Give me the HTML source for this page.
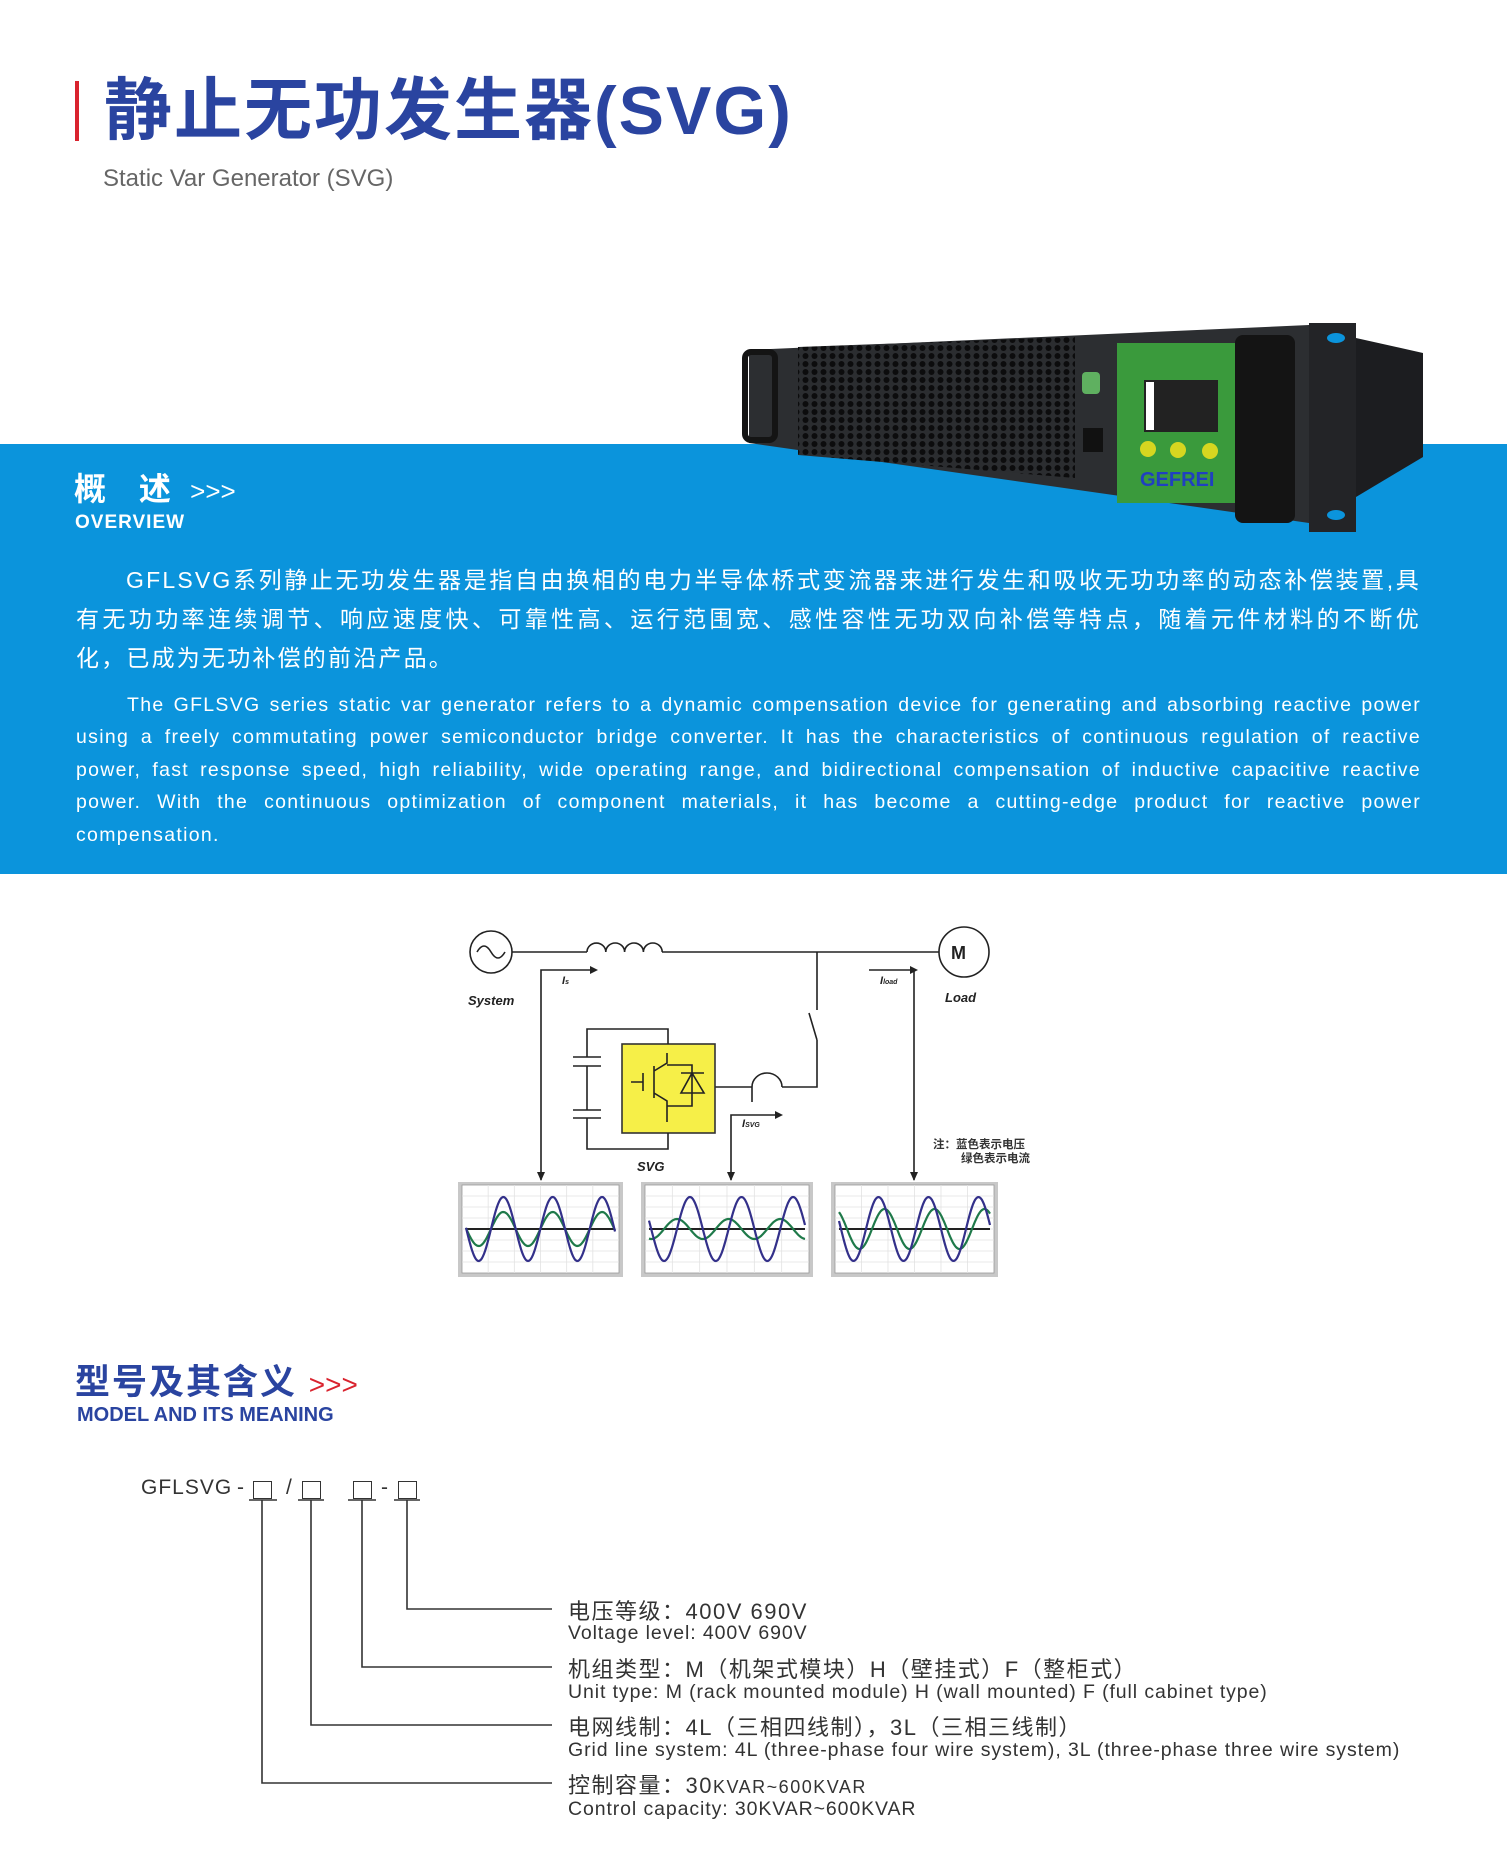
<!DOCTYPE html>
<html><head><meta charset="utf-8">
<style>
*{margin:0;padding:0;box-sizing:border-box}
body{width:1507px;height:1862px;position:relative;background:#fff;font-family:"Liberation Sans","Noto Sans CJK SC",sans-serif;overflow:hidden}
.a{position:absolute;white-space:nowrap}
#band{position:absolute;left:0;top:444px;width:1507px;height:430px;background:#0b94dc}
.cn{position:absolute;left:76px;width:1345px;color:#fff;font-size:23px;letter-spacing:2.2px;text-align:justify;text-align-last:justify;white-space:nowrap}
.en{position:absolute;left:76px;width:1345px;color:#fff;font-size:19.5px;letter-spacing:1.3px;text-align:justify;text-align-last:justify;white-space:nowrap}
.mc{position:absolute;left:568px;font-size:22px;color:#333;letter-spacing:1.5px}
.me{position:absolute;left:568px;font-size:19.5px;color:#333;letter-spacing:0.9px}
.bx{position:absolute;top:1481px;width:19px;height:18px;border:1.5px solid #333}
</style></head><body>
<div class="a" style="left:75px;top:81px;width:4px;height:60px;background:#d9232e"></div>
<div class="a" style="left:104px;top:66px;font-size:68px;font-weight:bold;color:#2a44a0;letter-spacing:2px;line-height:90px">静止无功发生器(SVG)</div>
<div class="a" style="left:103px;top:164px;font-size:24px;color:#666;line-height:30px">Static Var Generator (SVG)</div>

<div id="band"></div>

<svg class="a" style="left:0;top:0" width="1507" height="1862" viewBox="0 0 1507 1862">
<defs>
<pattern id="hex" width="9" height="8" patternUnits="userSpaceOnUse"><rect width="9" height="8" fill="#2b2d30"/><circle cx="4.5" cy="4" r="3" fill="#0c0c0d"/></pattern>
</defs>
<polygon points="1356,338 1423,353 1423,457 1356,497" fill="#1c1d20"/>
<polygon points="749,350 1309,325 1309,523 749,443" fill="#2c2e31"/>
<polygon points="798,347 1075,337 1075,478 798,455" fill="url(#hex)"/>
<rect x="745" y="352" width="30" height="88" rx="6" fill="none" stroke="#141414" stroke-width="6"/>
<rect x="1117" y="343" width="118" height="160" fill="#3a9a3c"/>
<rect x="1144" y="380" width="74" height="52" fill="#222"/>
<rect x="1146" y="382" width="8" height="48" fill="#fff"/>
<circle cx="1148" cy="449" r="8" fill="#d6d620"/><circle cx="1178" cy="450" r="8" fill="#d6d620"/><circle cx="1210" cy="451" r="8" fill="#d6d620"/>
<text x="1140" y="486" font-size="20" font-weight="bold" fill="#2040c0">GEFREI</text>
<rect x="1082" y="372" width="18" height="22" rx="4" fill="#5fb060"/>
<rect x="1083" y="428" width="20" height="24" fill="#111"/>
<rect x="1235" y="335" width="60" height="188" rx="8" fill="#141414"/>
<rect x="1309" y="323" width="47" height="209" fill="#232427"/>
<ellipse cx="1336" cy="338" rx="9" ry="5" fill="#0b94dc"/><ellipse cx="1336" cy="515" rx="9" ry="5" fill="#0b94dc"/>

<g fill="none" stroke="#222" stroke-width="1.6">
<circle cx="491" cy="952" r="21"/>
<path d="M477 952 q7 -12 14 0 t14 0"/>
<line x1="512" y1="952" x2="587" y2="952"/>
<path d="M587 952 a9.4 9 0 0 1 18.8 0 a9.4 9 0 0 1 18.8 0 a9.4 9 0 0 1 18.8 0 a9.4 9 0 0 1 18.8 0"/>
<line x1="662" y1="952" x2="939" y2="952"/>
<circle cx="964" cy="952" r="25"/>
<path d="M817 952 V1010 M809 1013 L817 1040 M817 1040 V1087 H782"/>
<path d="M715 1087 H752 M752 1102 V1087 A15 14 0 1 1 782 1087"/>
<rect x="622" y="1044" width="93" height="89" fill="#f6ef48" stroke="#333"/>
<path d="M668 1044 V1029 H587 V1057 M573 1057 H601 M573 1066 H601 M587 1066 V1110 M573 1110 H601 M573 1118 H601 M587 1118 V1149 H668 V1133"/>
<path d="M631 1082 H643 M643 1073 V1091 M654 1066 V1098 M654 1071 L667 1063 V1053 M654 1093 L667 1101 V1122 M667 1065 H692 V1106 H667 M681 1073 H704 M681 1093 H704 L692 1073 Z"/>
<path d="M541 1180 V970 H590"/>
<path d="M869 970 H914 V1180"/>
<path d="M731 1180 V1115 H775"/>
</g>
<g fill="#222">
<path d="M590 966 L598 970 L590 974Z"/><path d="M537 1172 L541 1181 L545 1172Z"/>
<path d="M910 966 L918 970 L910 974Z"/><path d="M910 1172 L914 1181 L918 1172Z"/>
<path d="M775 1111 L783 1115 L775 1119Z"/><path d="M727 1172 L731 1181 L735 1172Z"/>
</g>
<g font-family="Liberation Sans,sans-serif" font-weight="bold" font-style="italic" fill="#222">
<text x="468" y="1005" font-size="13">System</text>
<text x="945" y="1002" font-size="13">Load</text>
<text x="637" y="1171" font-size="13">SVG</text>
<text x="562" y="984" font-size="11">I<tspan font-size="7">s</tspan></text>
<text x="880" y="984" font-size="11">I<tspan font-size="7">load</tspan></text>
<text x="742" y="1127" font-size="11">I<tspan font-size="7">SVG</tspan></text>
</g>
<text x="951" y="959" font-size="18" font-weight="bold" fill="#222" font-family="Liberation Sans,sans-serif">M</text>
<g font-size="11.5" font-weight="bold" fill="#333" font-family="Noto Sans CJK SC,sans-serif">
<text x="933" y="1148">注：蓝色表示电压</text>
<text x="961" y="1162">绿色表示电流</text>
</g>
<g id="charts"></g>

<g stroke="#333" stroke-width="1.6" fill="none">
<path d="M249 1500 H277 M298 1500 H324 M348 1500 H376 M394 1500 H420"/>
<path d="M262 1500 V1783 H552 M311 1500 V1725 H552 M362 1500 V1667 H552 M407 1500 V1609 H552"/>
</g>
</svg>

<div class="a" style="left:74px;top:464px;font-size:32px;font-weight:bold;color:#fff;letter-spacing:12px">概 述<span style="font-weight:normal;font-size:26px;letter-spacing:0"> &gt;&gt;&gt;</span></div>
<div class="a" style="left:75px;top:512px;font-size:19px;font-weight:bold;color:#fff;letter-spacing:1px">OVERVIEW</div>

<div class="cn" style="top:561px;padding-left:50px">GFLSVG系列静止无功发生器是指自由换相的电力半导体桥式变流器来进行发生和吸收无功功率的动态补偿装置,具</div>
<div class="cn" style="top:600px">有无功功率连续调节、响应速度快、可靠性高、运行范围宽、感性容性无功双向补偿等特点，随着元件材料的不断优</div>
<div class="cn" style="top:639px;text-align-last:left">化，已成为无功补偿的前沿产品。</div>

<div class="en" style="top:694px;padding-left:51px">The GFLSVG series static var generator refers to a dynamic compensation device for generating and absorbing reactive power</div>
<div class="en" style="top:726px">using a freely commutating power semiconductor bridge converter. It has the characteristics of continuous regulation of reactive</div>
<div class="en" style="top:759px">power, fast response speed, high reliability, wide operating range, and bidirectional compensation of inductive capacitive reactive</div>
<div class="en" style="top:791px">power. With the continuous optimization of component materials, it has become a cutting-edge product for reactive power</div>
<div class="en" style="top:824px;text-align-last:left">compensation.</div>

<div class="a" style="left:75px;top:1354px;font-size:35px;font-weight:bold;color:#2a44a0;letter-spacing:2px">型号及其含义 <span style="color:#d9232e;font-weight:normal;font-size:28px;letter-spacing:0">&gt;&gt;&gt;</span></div>
<div class="a" style="left:77px;top:1404px;font-size:20px;font-weight:bold;color:#2a44a0">MODEL AND ITS MEANING</div>

<div class="a" style="left:141px;top:1476px;font-size:21px;color:#333;letter-spacing:1px">GFLSVG</div>
<div class="a" style="left:237px;top:1476px;font-size:21px;color:#333">-</div>
<div class="a" style="left:286px;top:1476px;font-size:21px;color:#333">/</div>
<div class="a" style="left:381px;top:1476px;font-size:21px;color:#333">-</div>
<div class="bx" style="left:253px"></div>
<div class="bx" style="left:302px"></div>
<div class="bx" style="left:353px"></div>
<div class="bx" style="left:398px"></div>

<div class="mc" style="top:1594px">电压等级：400V 690V</div>
<div class="me" style="top:1622px">Voltage level: 400V 690V</div>
<div class="mc" style="top:1652px">机组类型：M（机架式模块）H（壁挂式）F（整柜式）</div>
<div class="me" style="top:1681px">Unit type: M (rack mounted module) H (wall mounted) F (full cabinet type)</div>
<div class="mc" style="top:1710px">电网线制：4L（三相四线制），3L（三相三线制）</div>
<div class="me" style="top:1739px">Grid line system: 4L (three-phase four wire system), 3L (three-phase three wire system)</div>
<div class="mc" style="top:1768px">控制容量：30<span style="font-size:18px">KVAR~600KVAR</span></div>
<div class="me" style="top:1798px">Control capacity: 30KVAR~600KVAR</div>

<script>
(function(){
var g=document.getElementById('charts'),s='';
var C=[[458,623,491,32,17,0],[641,813,677,32,10,-0.25],[831,998,866,32,20,0.12]];
C.forEach(function(c){
 var x0=c[0],x1=c[1],w=x1-x0,cy=1229;
 s+='<rect x="'+x0+'" y="1182" width="'+w+'" height="95" fill="#c8c8c8"/>';
 s+='<rect x="'+(x0+4)+'" y="1185" width="'+(w-8)+'" height="88" fill="#fff" stroke="#999" stroke-width="0.8"/>';
 for(var i=1;i<6;i++){var xx=x0+4+(w-8)*i/6;s+='<line x1="'+xx+'" y1="1185" x2="'+xx+'" y2="1273" stroke="#e2e2e2" stroke-width="0.8"/>';}
 for(var j=1;j<8;j++){var yy=1185+88*j/8;s+='<line x1="'+(x0+4)+'" y1="'+yy+'" x2="'+(x1-4)+'" y2="'+yy+'" stroke="#e2e2e2" stroke-width="0.8"/>';}
 var per=(w-12)/3.1,pb='',pg='';
 for(var x=x0+8;x<=x1-8;x+=1){
  var t=(x-c[2])/per*2*Math.PI;
  pb+=(pb?' L':'M')+x+','+(cy-c[3]*Math.sin(t)).toFixed(1);
  pg+=(pg?' L':'M')+x+','+(cy-c[4]*Math.sin(t-c[5]*2*Math.PI)).toFixed(1);
 }
 s+='<line x1="'+(x0+8)+'" y1="'+cy+'" x2="'+(x1-8)+'" y2="'+cy+'" stroke="#222" stroke-width="2"/>';
 s+='<path d="'+pg+'" fill="none" stroke="#1f7a4a" stroke-width="2.2"/>';
 s+='<path d="'+pb+'" fill="none" stroke="#33308a" stroke-width="2.2"/>';
});
g.innerHTML=s;
})();
</script>
</body></html>
